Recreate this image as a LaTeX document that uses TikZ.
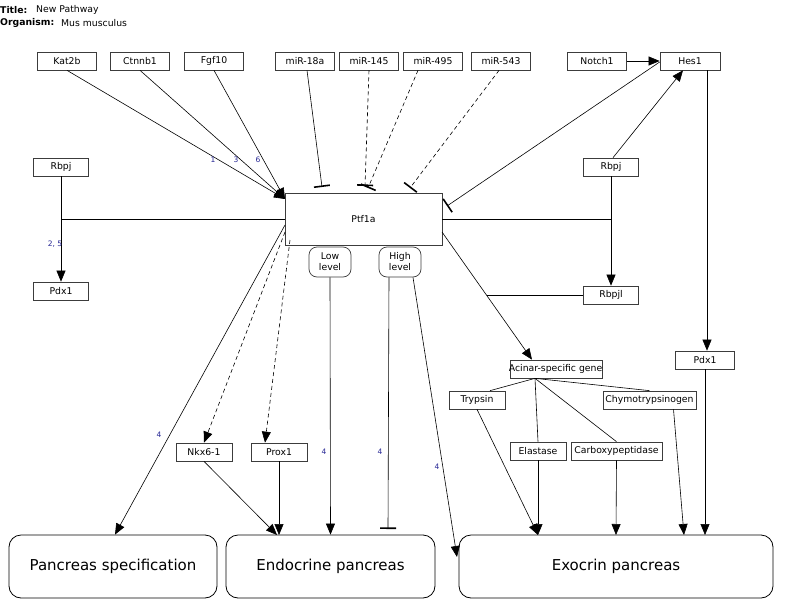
\documentclass[tikz,border=0pt]{standalone}
\usepackage{fontspec}
\setmainfont{DejaVu Sans}
\usetikzlibrary{arrows.meta}
\definecolor{lbl}{RGB}{40,40,150}
\definecolor{bord}{RGB}{60,60,60}
\tikzset{
  gbox/.style={draw=bord, line width=0.7pt, fill=white, minimum height=18pt, inner sep=0pt, font=\fontsize{9.3}{10}\selectfont},
  lvl/.style={draw=bord, line width=0.7pt, fill=white, rounded corners=8pt, minimum width=42pt, minimum height=30pt, inner sep=0pt, align=center, font=\fontsize{9.3}{11}\selectfont},
  big/.style={draw=black, line width=0.8pt, fill=white, rounded corners=12pt, minimum height=63pt, inner sep=0pt, font=\fontsize{15}{17}\selectfont},
  act/.style={line width=0.6pt, -{Triangle[length=11pt,width=9pt]}},
  inh/.style={line width=0.6pt, -{Bar[width=16pt,line width=1.6pt]}},
  plain/.style={line width=0.6pt},
  dsh/.style={dashed, dash pattern=on 4pt off 3pt},
  num/.style={font=\fontsize{7.5}{8}\selectfont, text=lbl, inner sep=0pt},
  ttl/.style={anchor=west, inner sep=0pt, font=\fontsize{9.3}{10}\selectfont}
}
\begin{document}
\begin{tikzpicture}[x=1pt,y=-1pt]
\useasboundingbox[fill=white] (0,0) rectangle (787,613);
% title
\node[ttl] (t1) at (0,10) {\textbf{Title:}};
\node[ttl] (t2) at (36,10) {New Pathway};
\node[ttl] (t3) at (0,23) {\textbf{Organism:}};
\node[ttl] (t4) at (61,23) {Mus musculus};
% top row
\node[gbox, minimum width=59pt] (kat) at (67,61) {Kat2b};
\node[gbox, minimum width=59pt] (ctn) at (140,61) {Ctnnb1};
\node[gbox, minimum width=59pt] (fgf) at (214,61) {Fgf10};
\node[gbox, minimum width=59pt] (m18) at (305,61) {miR-18a};
\node[gbox, minimum width=59pt] (m145) at (369,61) {miR-145};
\node[gbox, minimum width=59pt] (m495) at (433,61) {miR-495};
\node[gbox, minimum width=59pt] (m543) at (501,61) {miR-543};
\node[gbox, minimum width=59pt] (notch) at (597,61) {Notch1};
\node[gbox, minimum width=60pt] (hes) at (690,61) {Hes1};
% middle
\node[gbox, minimum width=55pt] (rbpjL) at (61,167) {Rbpj};
\node[gbox, minimum width=55pt] (rbpjR) at (611,167) {Rbpj};
\node[gbox, minimum width=157pt, minimum height=52pt] (ptf) at (363.5,219) {Ptf1a};
\node[lvl] (low) at (330,262) {Low\\level};
\node[lvl] (high) at (400,262) {High\\level};
\node[gbox, minimum width=55pt] (pdxL) at (61,291) {Pdx1};
\node[gbox, minimum width=55pt] (rbpjl) at (611,295) {Rbpjl};
\node[gbox, minimum width=92pt] (acin) at (556,369) {};
\begin{scope}
\clip (acin.south west) rectangle (acin.north east);
\node[inner sep=0pt, font=\fontsize{9.3}{10}\selectfont] (acinT) at (558,369) {Acinar-specific genes};
\end{scope}
\node[gbox, minimum width=59pt] (pdxR) at (705,360) {Pdx1};
\node[gbox, minimum width=56pt] (tryp) at (477,400) {Trypsin};
\node[gbox, minimum width=93pt] (chym) at (649.5,400) {Chymotrypsinogen};
\node[gbox, minimum width=56pt] (elas) at (538,451) {Elastase};
\node[gbox, minimum width=91pt] (carb) at (616.5,451) {Carboxypeptidase};
\node[gbox, minimum width=56pt] (nkx) at (204,452) {Nkx6-1};
\node[gbox, minimum width=56pt] (prox) at (279,452) {Prox1};
% bottom
\node[big, minimum width=208pt] (pspec) at (113,566.5) {Pancreas specification};
\node[big, minimum width=209pt] (endo) at (330.5,566.5) {Endocrine pancreas};
\node[big, minimum width=314pt] (exo) at (616,566.5) {Exocrin pancreas};
% coordinates
\coordinate (pin) at (285,199);
\coordinate (jL) at (61,219);
\coordinate (jR) at (611,219);
\coordinate (jA) at (487,295);
% activators into Ptf1a
\draw[act] (kat.south) -- (pin) node[num] at (213,160) {1};
\draw[act] (ctn.south) -- (pin) node[num] at (236,160) {3};
\draw[act] (fgf.south) -- (pin) node[num] at (258,160) {6};
% miRNA inhibitions
\draw[inh] (m18.south) ++(2,0) -- (322,187);
\draw[inh, dsh] (m145.south) -- (365,186);
\draw[inh, dsh] (m495.south) ++(-15,0) -- (368,188);
\draw[inh, dsh] (m543.south) ++(-2,0) -- (410,188);
\draw[inh] (hes.west) ++(0,1) -- (447,206);
% Notch/Hes
\draw[act] (notch.east) -- (hes.west);
\draw[act] (rbpjR.north) ++(2,0) -- ([xshift=-7pt]hes.south);
\draw[act] ([xshift=17pt]hes.south) -- ([xshift=2pt]pdxR.north);
% Rbpj left
\draw[act] (rbpjL.south) -- (pdxL.north) node[num] at (55,244) {2, 5};
\draw[plain] (ptf.west) -- (jL);
% Rbpj right
\draw[act] (rbpjR.south) -- (rbpjl.north);
\draw[plain] (ptf.east) -- (jR);
% Ptf1a outputs
\draw[act] (442,232) -- ([xshift=-24pt]acin.north);
\draw[plain] (rbpjl.west) -- (jA);
\draw[act] (285,225) -- ([xshift=2pt]pspec.north) node[num] at (159,435) {4};
\draw[act, dsh] (285,232) -- (nkx.north);
\draw[act, dsh] (290,240) -- ([xshift=-14pt]prox.north);
\draw[act] (low.south) -- (endo.north) node[num] at (324,452) {4};
\draw[inh] ([xshift=-11pt]high.south) -- (388,529) node[num] at (380,452) {4};
\draw[act] ([xshift=13pt]high.south) -- (457,557) node[num] at (437,467) {4};
% Nkx6-1, Prox1
\draw[act] (nkx.south) -- (277,535);
\draw[act] (prox.south) -- (279,535);
% Acinar genes
\draw[plain] ([xshift=-21pt]acin.south) -- ([xshift=13pt]tryp.north);
\draw[plain] ([xshift=-21pt]acin.south) -- (elas.north);
\draw[plain] ([xshift=-21pt]acin.south) -- (carb.north);
\draw[plain] ([xshift=-21pt]acin.south) -- (chym.north);
\draw[act] (tryp.south) -- (538,535);
\draw[act] (elas.south) -- (538,535);
\draw[act] (carb.south) -- (616,535);
\draw[act] ([xshift=24pt]chym.south) -- (684,535);
\draw[act] (pdxR.south) -- (705,535);
\end{tikzpicture}
\end{document}
